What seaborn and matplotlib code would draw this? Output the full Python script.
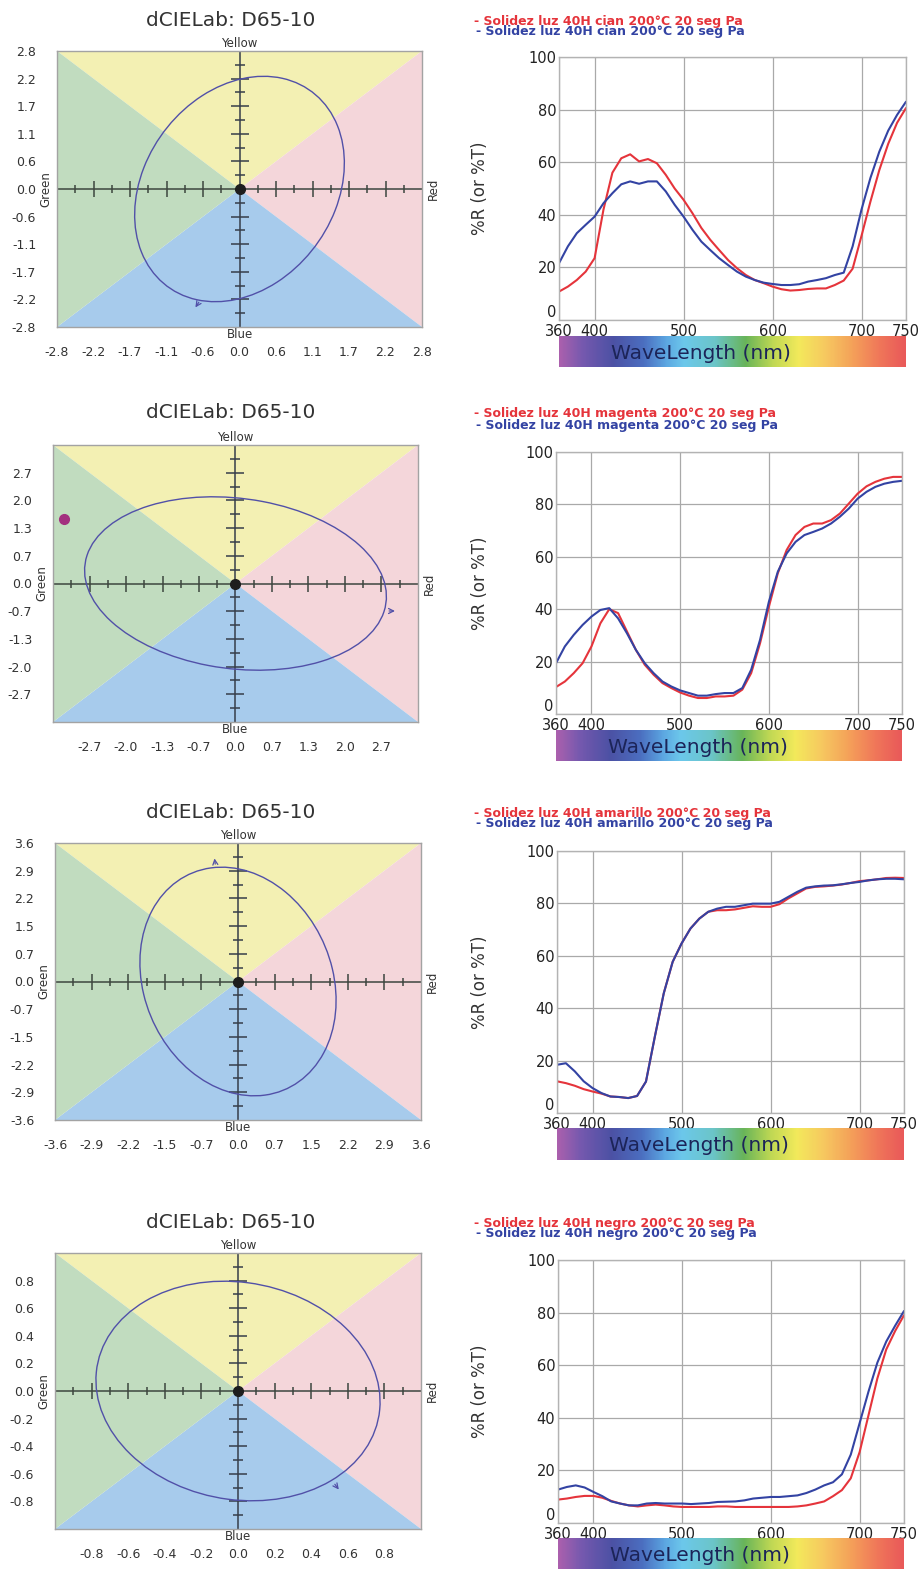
import numpy as np
import matplotlib
matplotlib.use("Agg")
import matplotlib.pyplot as plt
import seaborn as sns
from matplotlib.patches import Ellipse, Polygon
from matplotlib.colors import LinearSegmentedColormap

sns.set_theme(style="whitegrid")
plt.rcParams['font.family'] = ['DejaVu Sans']

W, H = 923, 1572

# ---------------- data ----------------
wavelength = list(range(360, 751, 10))
samples = ["cian", "magenta", "amarillo", "negro"]

cian_red = [10.8, 12.7, 15.2, 18.4, 23.5, 42, 56, 61.5, 63, 60.3, 61.2, 59.6, 55.2, 50, 45.7, 40.6, 35, 30.5, 26.6, 22.8,
            19.7, 17.1, 15.2, 14, 12.7, 11.7, 11.2, 11.4, 11.8, 12, 12, 13.3, 15, 19.5, 32, 45, 57, 67, 75, 80.6]
cian_blue = [21.6, 28, 33, 36.2, 39.3, 44.4, 48.2, 51.6, 52.7, 51.8, 52.7, 52.7, 48.9, 43.8, 39.3, 34.3, 29.8, 26.6, 23.5, 20.9,
             18.4, 16.5, 15.2, 14.2, 13.7, 13.3, 13.3, 13.6, 14.6, 15.2, 15.9, 17.1, 18, 28, 42, 54, 64, 72, 78, 83]
magenta_red = [10.3, 12.4, 15.6, 19.4, 25.8, 34.6, 40, 38.5, 31.5, 24.5, 18.8, 15, 11.8, 9.9, 8.2, 7, 6.1, 6.1, 6.7, 6.7,
               7, 9.3, 15.6, 27, 41, 53.7, 62.6, 68.3, 71.4, 72.7, 72.7, 74, 76.5, 80.3, 84.1, 86.9, 88.6, 89.8, 90.5, 90.5]
magenta_blue = [19.4, 25.8, 30.2, 34, 37.2, 39.7, 40.4, 36.5, 30.8, 24.5, 19.4, 15.6, 12.4, 10.5, 9, 8, 7, 7, 7.6, 8,
                8, 9.9, 16.9, 28.3, 42.9, 54.3, 61.3, 65.7, 68.3, 69.5, 70.8, 72.7, 75.3, 78.4, 82.2, 84.8, 86.7, 87.9, 88.6, 89]
amarillo_red = [12.1, 11.4, 10.4, 9.1, 8.2, 7.4, 6.3, 6.1, 5.7, 6.5, 12, 29.2, 45.7, 57.7, 64.7, 70.4, 74.2, 76.8, 77.4, 77.4,
                77.7, 78.3, 78.9, 78.7, 78.7, 79.7, 81.9, 83.8, 85.7, 86.3, 86.5, 86.8, 87.2, 87.8, 88.5, 88.8, 89.2, 89.7, 89.8, 89.7]
amarillo_blue = [18.4, 19, 15.9, 12.1, 9.5, 7.6, 6.3, 6.1, 5.7, 6.5, 12, 29.2, 45.7, 57.7, 64.7, 70.4, 74.2, 76.8, 78, 78.7,
                 78.7, 79.3, 79.9, 79.9, 79.9, 80.6, 82.5, 84.4, 86, 86.5, 86.8, 86.9, 87.3, 87.8, 88.2, 88.8, 89.2, 89.4, 89.4, 89.2]
negro_red = [8.9, 9.3, 9.9, 10.3, 10.3, 9.6, 8.4, 7.4, 6.7, 6.3, 6.7, 7, 6.7, 6.3, 6.1, 6.1, 6.1, 6.1, 6.3, 6.3,
             6.1, 6.1, 6.1, 6.1, 6.1, 6.1, 6.1, 6.3, 6.7, 7.4, 8.2, 10.2, 12.5, 17, 27, 41, 55, 66, 73, 79]
negro_blue = [12.7, 13.7, 14.3, 13.5, 11.8, 10.2, 8.2, 7.4, 6.7, 6.7, 7.4, 7.6, 7.4, 7.4, 7.4, 7.2, 7.4, 7.6, 8, 8.1,
              8.2, 8.6, 9.3, 9.6, 9.9, 9.9, 10.2, 10.5, 11.4, 12.7, 14.3, 15.5, 18.5, 26, 38, 50, 61, 69, 75, 80.6]

red_curves = [cian_red, magenta_red, amarillo_red, negro_red]
blue_curves = [cian_blue, magenta_blue, amarillo_blue, negro_blue]

# dCIELab diagrams: half range, tick step, tick labels
chroma_limits = [2.8, 3.375, 3.6, 1.0]
chroma_steps = [0.56, 0.675, 0.72, 0.2]
chroma_labels = [
    ["-2.8", "-2.2", "-1.7", "-1.1", "-0.6", "0.0", "0.6", "1.1", "1.7", "2.2", "2.8"],
    ["-2.7", "-2.0", "-1.3", "-0.7", "0.0", "0.7", "1.3", "2.0", "2.7"],
    ["-3.6", "-2.9", "-2.2", "-1.5", "-0.7", "0.0", "0.7", "1.5", "2.2", "2.9", "3.6"],
    ["-0.8", "-0.6", "-0.4", "-0.2", "0.0", "0.2", "0.4", "0.6", "0.8"],
]
# tolerance ellipses (full width, full height, angle in degrees)
ellipse_width = [4.68, 5.66, 6.0, 1.65]
ellipse_height = [3.06, 4.12, 3.77, 1.49]
ellipse_angle = [73.7, -14, -79.8, -52]
# direction arrows on the ellipses
arrow_tail = [(-0.60, -2.25), (2.79, -0.67), (-0.44, 2.98), (0.52, -0.66)]
arrow_head = [(-0.70, -2.45), (3.00, -0.67), (-0.47, 3.27), (0.56, -0.73)]
sample_dot = (-3.17, 1.58)  # magenta sample point

# wavelength colour strip
strip_nm = [360, 385, 420, 455, 480, 500, 535, 570, 600, 630, 660, 690, 720, 750]
strip_colors = ['#a452a6', '#6a4aa8', '#3c419c', '#3b62bb', '#4d9edf', '#5fc3ea', '#5ec0c4', '#5aae4a',
                '#b8d444', '#f2e84c', '#f7c452', '#f49a4a', '#ef6c4a', '#e84a4a']

# ---------------- layout (pixels) ----------------
left_boxes = [(57, 51, 422, 327), (53, 445, 418, 722), (55, 843, 421, 1120), (55, 1253, 421, 1529)]
right_boxes = [(559, 57, 906, 320), (556, 452, 902, 714), (557, 851, 904, 1113), (558, 1260, 904, 1523)]
strip_boxes = [(336, 367), (730, 761), (1128, 1160), (1538, 1569)]
title_y = [21, 412, 813, 1223]
legend_y = [(21, 32), (414, 426), (813, 824), (1223, 1233)]

RED = '#e5343b'
BLUE = '#3343a3'
ELL = '#5150a8'

fig = plt.figure(figsize=(W / 100, H / 100), dpi=100)
fig.patch.set_facecolor('white')


def rect(l, t, r, b):
    return [l / W, 1 - b / H, (r - l) / W, (b - t) / H]


def chroma(ax, i):
    lim = chroma_limits[i]
    step = chroma_steps[i]
    labels = chroma_labels[i]
    ax.set_xlim(-lim, lim)
    ax.set_ylim(-lim, lim)
    ax.grid(False)
    tl, tr, br, bl = (-lim, lim), (lim, lim), (lim, -lim), (-lim, -lim)
    for c1, c2, col in [(tl, tr, '#f3f0b3'), (tr, br, '#f4d6da'), (br, bl, '#a7cbec'), (bl, tl, '#c1dcbf')]:
        ax.add_patch(Polygon([(0, 0), c1, c2], closed=True, fc=col, ec='none', zorder=0))

    n = len(labels)
    pos = (np.arange(n) - (n - 1) / 2) * step
    ax.set_xticks(pos)
    ax.set_xticklabels(labels)
    ax.set_yticks(pos)
    ax.set_yticklabels(labels)
    ax.tick_params(axis='x', length=0, pad=14, labelsize=9, labelcolor='#333333')
    ax.tick_params(axis='y', length=0, pad=15, labelsize=9, labelcolor='#333333')

    # centre cross with tick marks
    ax.axhline(0, color='#3d463f', lw=1.1, zorder=2)
    ax.axvline(0, color='#363e4a', lw=1.1, zorder=2)
    j = np.arange(-9, 10)
    j = j[j != 0]
    marks = j * step / 2
    big = marks[j % 2 == 0]
    small = marks[j % 2 != 0]
    zeros_b = np.zeros(len(big))
    zeros_s = np.zeros(len(small))
    ax.plot(big, zeros_b, ls='none', marker='|', ms=12, mew=1.1, color='#3d463f', zorder=3)
    ax.plot(small, zeros_s, ls='none', marker='|', ms=6, mew=1.1, color='#3d463f', zorder=3)
    ax.plot(zeros_b, big, ls='none', marker='_', ms=13, mew=1.1, color='#363e4a', zorder=3)
    ax.plot(zeros_s, small, ls='none', marker='_', ms=7, mew=1.1, color='#363e4a', zorder=3)
    ax.plot([0], [0], 'o', color='#1e1e1e', ms=7, zorder=5)

    ax.add_patch(Ellipse((0, 0), ellipse_width[i], ellipse_height[i], angle=ellipse_angle[i],
                         fill=False, ec=ELL, lw=1.0, zorder=4))
    ax.annotate('', xy=arrow_head[i], xytext=arrow_tail[i],
                arrowprops=dict(arrowstyle='->', color=ELL, lw=0.9, mutation_scale=9), zorder=4)

    for s in ax.spines.values():
        s.set_color('#a3a3a3')
        s.set_linewidth(1)
    ax.text(0.5, 1.003, 'Yellow', transform=ax.transAxes, ha='center', va='bottom', fontsize=8.5, color='#333333')
    ax.text(0.5, -0.004, 'Blue', transform=ax.transAxes, ha='center', va='top', fontsize=8.5, color='#333333')
    ax.text(-0.012, 0.5, 'Green', transform=ax.transAxes, ha='right', va='center', rotation=90, fontsize=8.5, color='#333333')
    ax.text(1.012, 0.5, 'Red', transform=ax.transAxes, ha='left', va='center', rotation=90, fontsize=8.5, color='#333333')


def spectrum(ax, i):
    sns.lineplot(x=wavelength, y=red_curves[i], ax=ax, color=RED, linewidth=1.5)
    sns.lineplot(x=wavelength, y=blue_curves[i], ax=ax, color=BLUE, linewidth=1.5)
    ax.set_xlim(360, 750)
    ax.set_ylim(0, 100)
    ax.set_xticks([360, 400, 500, 600, 700, 750])
    ax.set_yticks(list(range(0, 101, 20)))
    ax.grid(True, color='#a9a9a9', lw=0.9)
    ax.tick_params(axis='x', length=0, pad=3, labelsize=10.5, labelcolor='#222222')
    ax.tick_params(axis='y', length=0, pad=2, labelsize=10.5, labelcolor='#222222')
    ax.get_yticklabels()[0].set_verticalalignment('bottom')
    ax.set_xlabel('')
    ax.set_ylabel('')
    for s in ax.spines.values():
        s.set_color('#b3b3b3')
        s.set_linewidth(1)


cmap = LinearSegmentedColormap.from_list(
    'wl', [((v - 360) / 390, c) for v, c in zip(strip_nm, strip_colors)])

for i, name in enumerate(samples):
    ax_c = fig.add_axes(rect(*left_boxes[i]))
    chroma(ax_c, i)
    fig.text(231 / W, 1 - title_y[i] / H, 'dCIELab: D65-10', ha='center', va='center',
             fontsize=14.5, color='#333333')
    if i == 1:
        ax_c.plot([sample_dot[0]], [sample_dot[1]], 'o', color='#a3307f', ms=7, zorder=5)

    l, t, r, b = right_boxes[i]
    ax_s = fig.add_axes(rect(l, t, r, b))
    spectrum(ax_s, i)
    fig.text(480 / W, 1 - (t + b) / 2 / H, '%R (or %T)', rotation=90, ha='center', va='center',
             fontsize=12, color='#333333')

    label = f'- Solidez luz 40H {name} 200°C 20 seg Pa'
    fig.text(474 / W, 1 - legend_y[i][0] / H, label, color=RED, fontsize=9, fontweight='bold', va='center')
    fig.text(476 / W, 1 - legend_y[i][1] / H, label, color=BLUE, fontsize=9, fontweight='bold', va='center')

    st, sb = strip_boxes[i]
    ax_w = fig.add_axes(rect(l, st, r, sb))
    grad = np.linspace(360, 750, 500)[None, :]
    ax_w.imshow(grad, extent=(360, 750, 0, 1), aspect='auto', cmap=cmap, vmin=360, vmax=750, alpha=0.92)
    ax_w.axis('off')
    ax_w.text(0.41, 0.45, 'WaveLength (nm)', transform=ax_w.transAxes, ha='center', va='center',
              fontsize=14.5, color='#1c2458')

fig.savefig('out.png', dpi=100)
